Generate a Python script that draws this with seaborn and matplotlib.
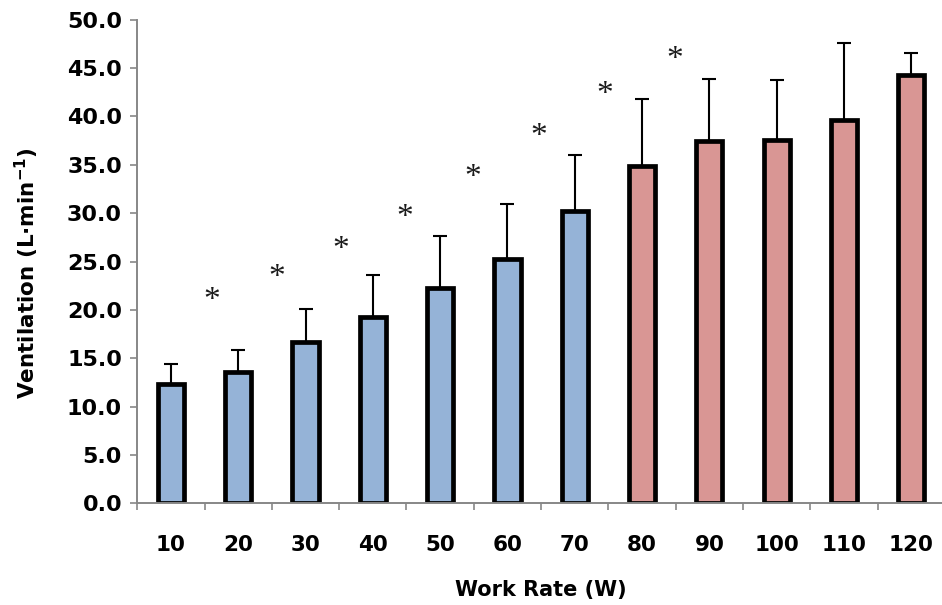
import numpy as np
import pandas as pd
import matplotlib
matplotlib.use("Agg")
import matplotlib.pyplot as plt
import seaborn as sns

# Ventilation at each work rate (mean and upper SD)
work_rate = ["10", "20", "30", "40", "50", "60", "70", "80", "90", "100", "110", "120"]
ve_mean = [12.3, 13.6, 16.7, 19.3, 22.3, 25.3, 30.2, 34.9, 37.5, 37.6, 39.6, 44.3]
ve_sd = [2.1, 2.2, 3.4, 4.3, 5.3, 5.6, 5.8, 6.9, 6.4, 6.2, 8.0, 2.3]
phase = ["low"] * 7 + ["high"] * 5

# Significance markers placed between adjacent work rates
star_x = [0.6, 1.57, 2.52, 3.48, 4.49, 5.46, 6.45, 7.49]
star_y = [21.8, 24.2, 27.1, 30.4, 34.5, 38.8, 43.1, 46.7]

y_ticks = [0, 5, 10, 15, 20, 25, 30, 35, 40, 45, 50]

sns.set_theme(style="white")
plt.rcParams["font.family"] = ["DejaVu Sans"]
plt.rcParams["mathtext.default"] = "bf"
plt.rcParams["text.color"] = "black"
plt.rcParams["axes.labelcolor"] = "black"

df = pd.DataFrame({"work_rate": work_rate, "ve": ve_mean, "phase": phase})

fig = plt.figure(figsize=(9.42, 6.05), dpi=100)
W, H = 942, 605
ax = fig.add_axes([137.3 / W, (H - 503.3) / H, 807.6 / W, 483.6 / H])

ax.errorbar(np.arange(len(work_rate)), ve_mean,
            yerr=[np.zeros(len(ve_sd)), ve_sd], fmt="none",
            ecolor="black", elinewidth=1.5, capsize=4.8, capthick=1.5,
            zorder=1)

sns.barplot(data=df, x="work_rate", y="ve", hue="phase",
            palette={"low": "#95B3D7", "high": "#D99694"}, saturation=1,
            order=work_rate, dodge=False, width=0.39,
            edgecolor="black", linewidth=3.4, legend=False,
            errorbar=None, ax=ax, zorder=2)

for sx, sy in zip(star_x, star_y):
    ax.annotate("*", xy=(sx, sy), xytext=(0, -12), textcoords="offset points",
                ha="center", va="baseline", fontsize=24,
                family=["Liberation Serif", "DejaVu Serif"], color="#1a1a1a")

ax.set_xlim(-0.5, len(work_rate) - 0.5)
ax.set_ylim(0, 50)
ax.set_yticks(y_ticks)
ax.set_yticklabels([f"{v:.1f}" for v in y_ticks], fontsize=16, fontweight="bold")
ax.set_xticks(range(len(work_rate)))
ax.set_xticklabels(work_rate, fontsize=15.5, fontweight="bold")
ax.set_xticks(np.arange(-0.5, len(work_rate), 1.0), minor=True)

grey = "#878787"
ax.tick_params(axis="x", which="major", length=0, pad=23, labelcolor="black")
ax.tick_params(axis="x", which="minor", length=5, width=1.2, color=grey,
               direction="out", bottom=True)
ax.tick_params(axis="y", which="major", length=5, width=1.2, color=grey,
               direction="out", pad=6, left=True, labelcolor="black")

for side in ["top", "right"]:
    ax.spines[side].set_visible(False)
for side in ["left", "bottom"]:
    ax.spines[side].set_color(grey)
    ax.spines[side].set_linewidth(1.4)

ax.set_xlabel("Work Rate (W)", fontsize=15, fontweight="bold", va="center")
ax.set_ylabel("Ventilation (L·min$^{-1}$)", fontsize=15.5, fontweight="bold", va="center")
ax.xaxis.set_label_coords(0.5, -0.179)
ax.yaxis.set_label_coords((27 - 137.3) / 807.6, 0.476)
ax.grid(False)

fig.savefig("out.png", dpi=100)
